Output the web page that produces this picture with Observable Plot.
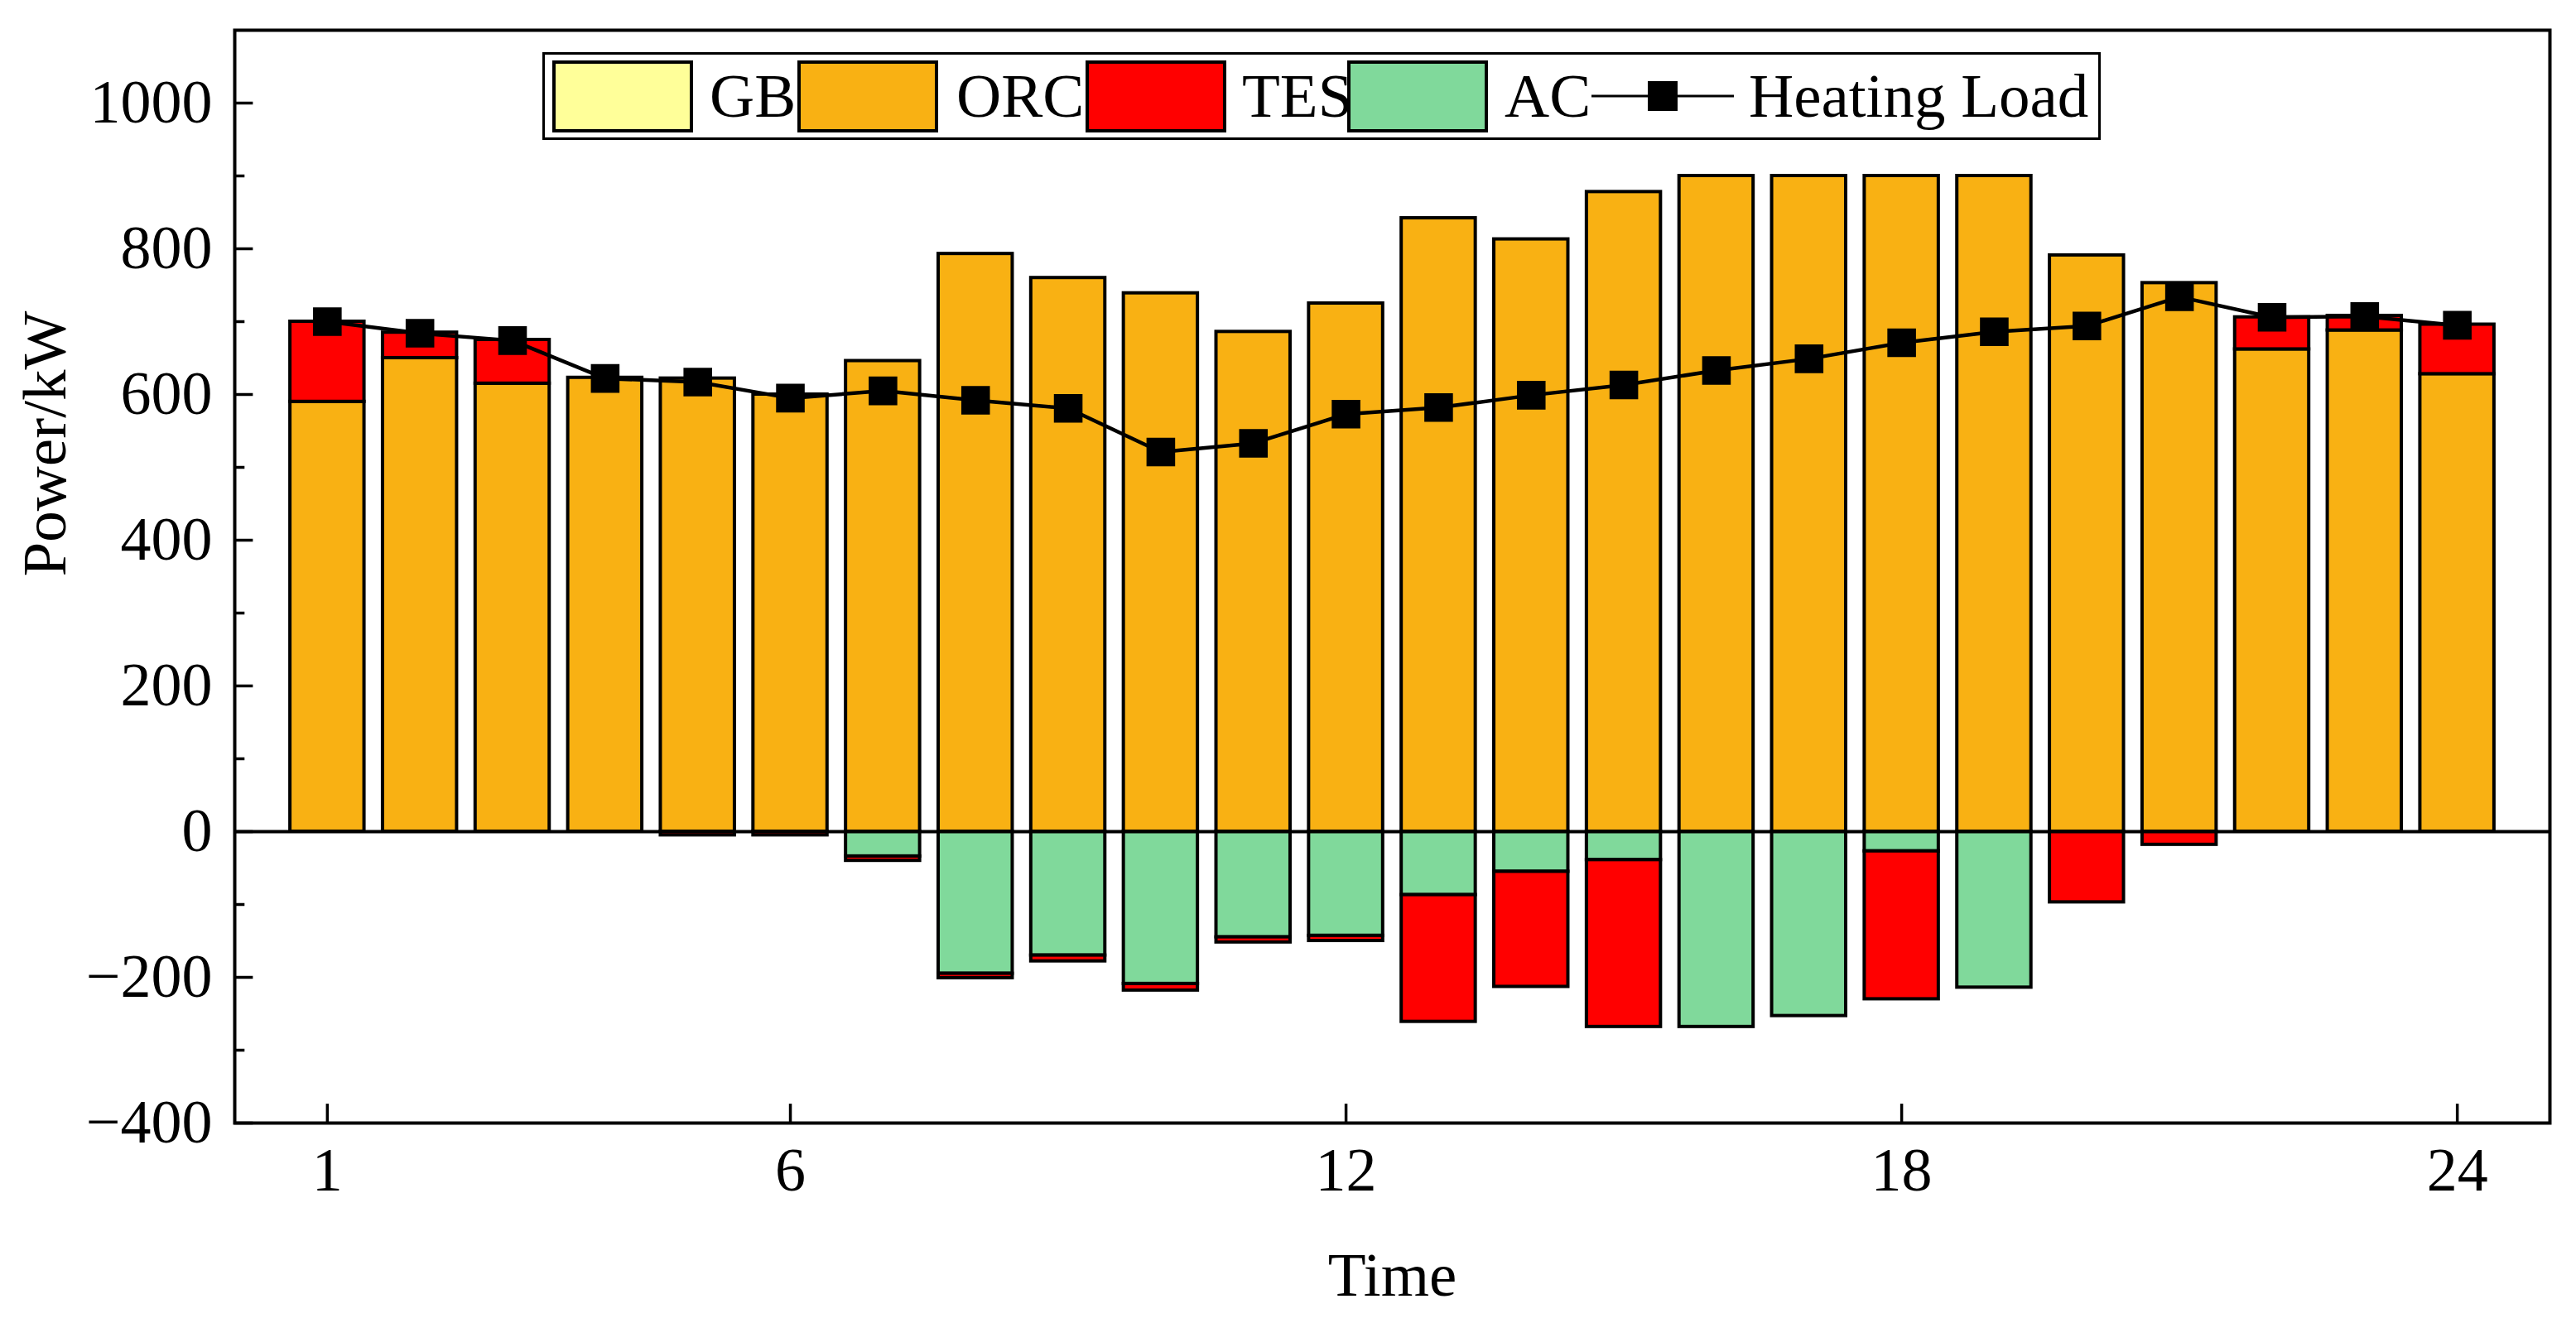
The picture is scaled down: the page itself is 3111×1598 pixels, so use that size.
<!DOCTYPE html>
<html>
<head>
<meta charset="utf-8">
<script src="https://cdn.jsdelivr.net/npm/d3@7"></script>
<script src="https://cdn.jsdelivr.net/npm/@observablehq/plot@0.6"></script>
<style>
  body { margin: 0; background: #fff; }
  #wrap { position: relative; width: 3111px; height: 1598px; font-family: "Liberation Serif", "Times New Roman", serif; }
  #legend { position: absolute; left: 655px; top: 63px; width: 1882px; height: 106px; box-sizing: border-box;
            border: 3px solid #000; background: #fff; }
  #legend .sw { position: absolute; top: 7px; width: 170px; height: 87px; box-sizing: border-box; border: 4px solid #000; }
  #legend .lb { position: absolute; top: 0; height: 100px; line-height: 100px; font-size: 75px; white-space: nowrap; }
  #legend svg { position: absolute; top: 0; }
</style>
</head>
<body>
<div id="wrap">
  <div id="chart"></div>
  <div id="legend"></div>
</div>
<script>
// categories
const hours = [1, 2, 3, 4, 5, 6, 7, 8, 9, 10, 11, 12, 13, 14, 15, 16, 17, 18, 19, 20, 21, 22, 23, 24];

// series (kW)
const gb  = [0, 0, 0, 0, 0, 0, 0, 0, 0, 0, 0, 0, 0, 0, 0, 0, 0, 0, 0, 0, 0, 0, 0, 0];
const orc = [590, 650, 615, 623, 622, 600, 646, 793, 760, 739, 686, 725, 842, 813, 878, 900, 900, 900, 900, 791, 753, 662, 688, 628];
const tes = [110, 35, 60, 0, -5, -5, -6, -6, -8, -9, -7, -7, -174, -158, -229, 0, 0, -203, 0, -97, -18, 44, 20, 68];
const ac  = [0, 0, 0, 0, 0, 0, -34, -195, -170, -209, -145, -143, -87, -55, -39, -268, -253, -27, -214, 0, 0, 0, 0, 0];
const heatingLoad = [700, 684, 674, 622, 617, 595, 605, 592, 581, 521, 533, 573, 582, 599, 613, 633, 649, 671, 686, 694, 734, 706, 707, 695];

// legend names / colours
const names  = ["GB", "ORC", "TES", "AC"];
const colors = ["#FFFF99", "#F9B113", "#FF0000", "#80D99B"];

// ticks
const xTicks = [1, 6, 12, 18, 24];
const yMajor = [-400, -200, 0, 200, 400, 600, 800, 1000];
const yMinor = [-300, -100, 100, 300, 500, 700, 900];

// stack order: positives GB, ORC, TES up from 0; negatives AC then TES down from 0
const stackOrder = [["GB", gb], ["ORC", orc], ["AC", ac], ["TES", tes]];
const rows = [];
hours.forEach((h, i) => {
  let up = 0, down = 0;
  for (const [name, vals] of stackOrder) {
    const v = vals[i];
    if (!v) continue;
    if (v > 0) { rows.push({hour: h, name, y1: up, y2: up + v}); up += v; }
    else { rows.push({hour: h, name, y1: down, y2: down + v}); down += v; }
  }
});
const load = hours.map((h, i) => ({hour: h, load: heatingLoad[i]}));

const fmt = d => d < 0 ? "\u2212" + Math.abs(d) : String(d);

const chart = Plot.plot({
  width: 3111,
  height: 1598,
  marginTop: 36,
  marginBottom: 242,
  marginLeft: 283,
  marginRight: 32,
  style: {fontFamily: "Liberation Serif, Times New Roman, serif", fontSize: "74px", background: "#fff"},
  x: {domain: [0, 25]},
  y: {domain: [-400, 1100]},
  color: {domain: names, range: colors},
  marks: [
    Plot.rectY(rows, {x1: d => d.hour - 0.4, x2: d => d.hour + 0.4, y1: "y1", y2: "y2", fill: "name", stroke: "#000", strokeWidth: 4}),
    Plot.ruleY([0], {stroke: "#000", strokeWidth: 4}),
    Plot.line(load, {x: "hour", y: "load", stroke: "#000", strokeWidth: 4.5}),
    Plot.dot(load, {x: "hour", y: "load", symbol: "square", r: 19.5, fill: "#000", stroke: null}),
    // inward ticks
    Plot.ruleX(xTicks, {x: d => d, y1: -400, y2: -374, stroke: "#000", strokeWidth: 3.5}),
    Plot.ruleY(yMajor, {y: d => d, x1: 0, x2: 0.2, stroke: "#000", strokeWidth: 3.5}),
    Plot.ruleY(yMinor, {y: d => d, x1: 0, x2: 0.11, stroke: "#000", strokeWidth: 3.5}),
    Plot.axisX(xTicks, {tickSize: 0, tickPadding: 29, label: null, fill: "#000"}),
    Plot.axisY(yMajor, {tickSize: 0, tickPadding: 27, label: null, tickFormat: fmt, fill: "#000"}),
    Plot.frame({stroke: "#000", strokeWidth: 4}),
    Plot.text(["Time"], {text: d => d, frameAnchor: "bottom", dy: 184, lineAnchor: "middle", fontSize: 75, fill: "#000"}),
    Plot.text(["Power/kW"], {text: d => d, frameAnchor: "left", dx: -229, rotate: -90, lineAnchor: "middle", fontSize: 75, fill: "#000"})
  ]
});

document.getElementById("chart").append(chart);

// legend (inside the frame, top)
const legend = document.getElementById("legend");
const left0 = 655 + 3;
const swatchX = [667, 963, 1311, 1627];
const textX = [857, 1155, 1500, 1817];
names.forEach((n, i) => {
  const sw = document.createElement("div");
  sw.className = "sw";
  sw.style.left = (swatchX[i] - left0) + "px";
  sw.style.background = colors[i];
  legend.append(sw);
  const lb = document.createElement("div");
  lb.className = "lb";
  lb.style.left = (textX[i] - left0) + "px";
  lb.textContent = n;
  legend.append(lb);
});
const ln = d3.create("svg").attr("width", 172).attr("height", 100).style("left", (1922 - left0) + "px");
ln.append("line").attr("x1", 0).attr("x2", 172).attr("y1", 50).attr("y2", 50).attr("stroke", "#000").attr("stroke-width", 3);
ln.append("rect").attr("x", 86 - 18).attr("y", 50 - 18).attr("width", 36).attr("height", 36).attr("fill", "#000");
legend.append(ln.node());
const hl = document.createElement("div");
hl.className = "lb";
hl.style.left = (2112 - left0) + "px";
hl.textContent = "Heating Load";
legend.append(hl);
</script>
</body>
</html>
